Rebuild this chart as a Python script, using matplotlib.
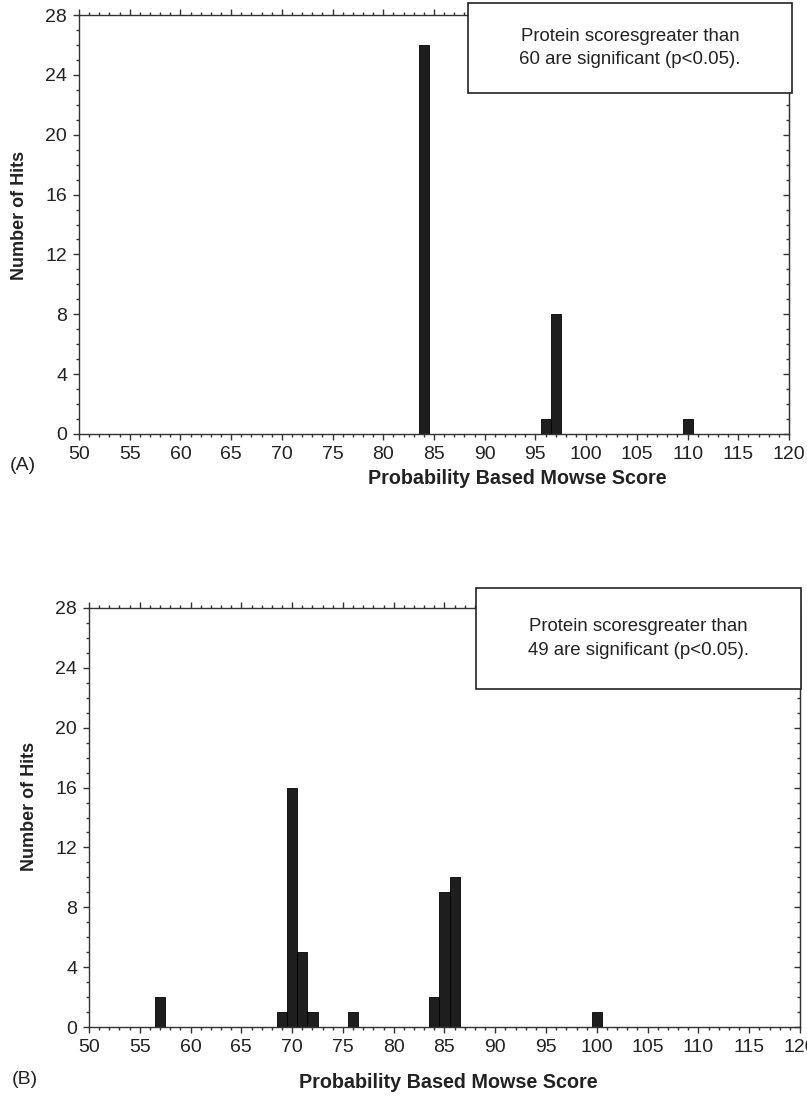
import numpy as np
import matplotlib.pyplot as plt
from matplotlib.patches import Rectangle
from matplotlib.ticker import MultipleLocator

plt.rcParams['font.family'] = ['Liberation Sans', 'DejaVu Sans']

# panel A: score -> number of hits
scores_a = [84, 96, 97, 110]
hits_a = [26, 1, 8, 1]

# panel B
scores_b = [57, 69, 70, 71, 72, 76, 84, 85, 86, 100]
hits_b = [2, 1, 16, 5, 1, 1, 2, 9, 10, 1]

note_a = "Protein scoresgreater than\n60 are significant (p<0.05)."
note_b = "Protein scoresgreater than\n49 are significant (p<0.05)."

W, H = 807, 1096
bar_color = '#1e1e1e'
axis_color = '#333333'


def fx(px):
    return px / W


def fy(py):
    return 1 - py / H


def draw_panel(fig, rect, scores, hits, note, box, tag, tag_pos, xlab_pos, ylab_pos):
    ax = fig.add_axes(rect)
    ax.bar(scores, hits, width=1.0, color=bar_color, edgecolor='black', linewidth=0.6)
    ax.set_xlim(50, 120)
    ax.set_ylim(0, 28)
    ax.xaxis.set_major_locator(MultipleLocator(5))
    ax.xaxis.set_minor_locator(MultipleLocator(1))
    ax.yaxis.set_major_locator(MultipleLocator(4))
    ax.yaxis.set_minor_locator(MultipleLocator(1))
    ax.tick_params(which='both', direction='out', top=True, colors=axis_color,
                   labelcolor='#222222', labelsize=14, width=1.0)
    ax.tick_params(which='major', length=4.5, pad=4)
    ax.tick_params(which='minor', length=2)
    for s in ax.spines.values():
        s.set_color(axis_color)
        s.set_linewidth(1.0)

    # right side ticks point inward
    sec = ax.secondary_yaxis('right')
    sec.yaxis.set_major_locator(MultipleLocator(4))
    sec.yaxis.set_minor_locator(MultipleLocator(1))
    sec.tick_params(which='both', direction='in', labelright=False, colors=axis_color, width=1.0)
    sec.tick_params(which='major', length=4.5)
    sec.tick_params(which='minor', length=2)
    sec.spines['right'].set_color(axis_color)

    # note box
    x0, y0, x1, y1 = box
    fig.patches.append(Rectangle((fx(x0), fy(y1)), fx(x1 - x0), (y1 - y0) / H,
                                 transform=fig.transFigure, facecolor='white',
                                 edgecolor='#222222', linewidth=1.2, zorder=5))
    fig.text(fx((x0 + x1) / 2), fy((y0 + y1) / 2), note, ha='center', va='center',
             fontsize=13.4, color='#222222', linespacing=1.5, zorder=6)

    fig.text(fx(xlab_pos[0]), fy(xlab_pos[1]), 'Probability Based Mowse Score',
             ha='center', va='center', fontsize=14.2, fontweight='bold', color='#222222')
    fig.text(fx(ylab_pos[0]), fy(ylab_pos[1]), 'Number of Hits', rotation=90,
             ha='center', va='center', fontsize=13, fontweight='bold', color='#222222')
    fig.text(fx(tag_pos[0]), fy(tag_pos[1]), tag, ha='center', va='center',
             fontsize=14, color='#222222')
    return ax


fig = plt.figure(figsize=(W / 100, H / 100), dpi=100)

draw_panel(fig, [fx(79), fy(434), fx(789 - 79), (434 - 15) / H],
           scores_a, hits_a, note_a, (468, 3, 792, 93), '(A)',
           (23, 465), (517, 478), (20, 215))

draw_panel(fig, [fx(89), fy(1027), fx(800 - 89), (1027 - 608) / H],
           scores_b, hits_b, note_b, (476, 588, 801, 689), '(B)',
           (25, 1080), (448, 1083), (30, 806))

fig.savefig('out.png', dpi=100)
